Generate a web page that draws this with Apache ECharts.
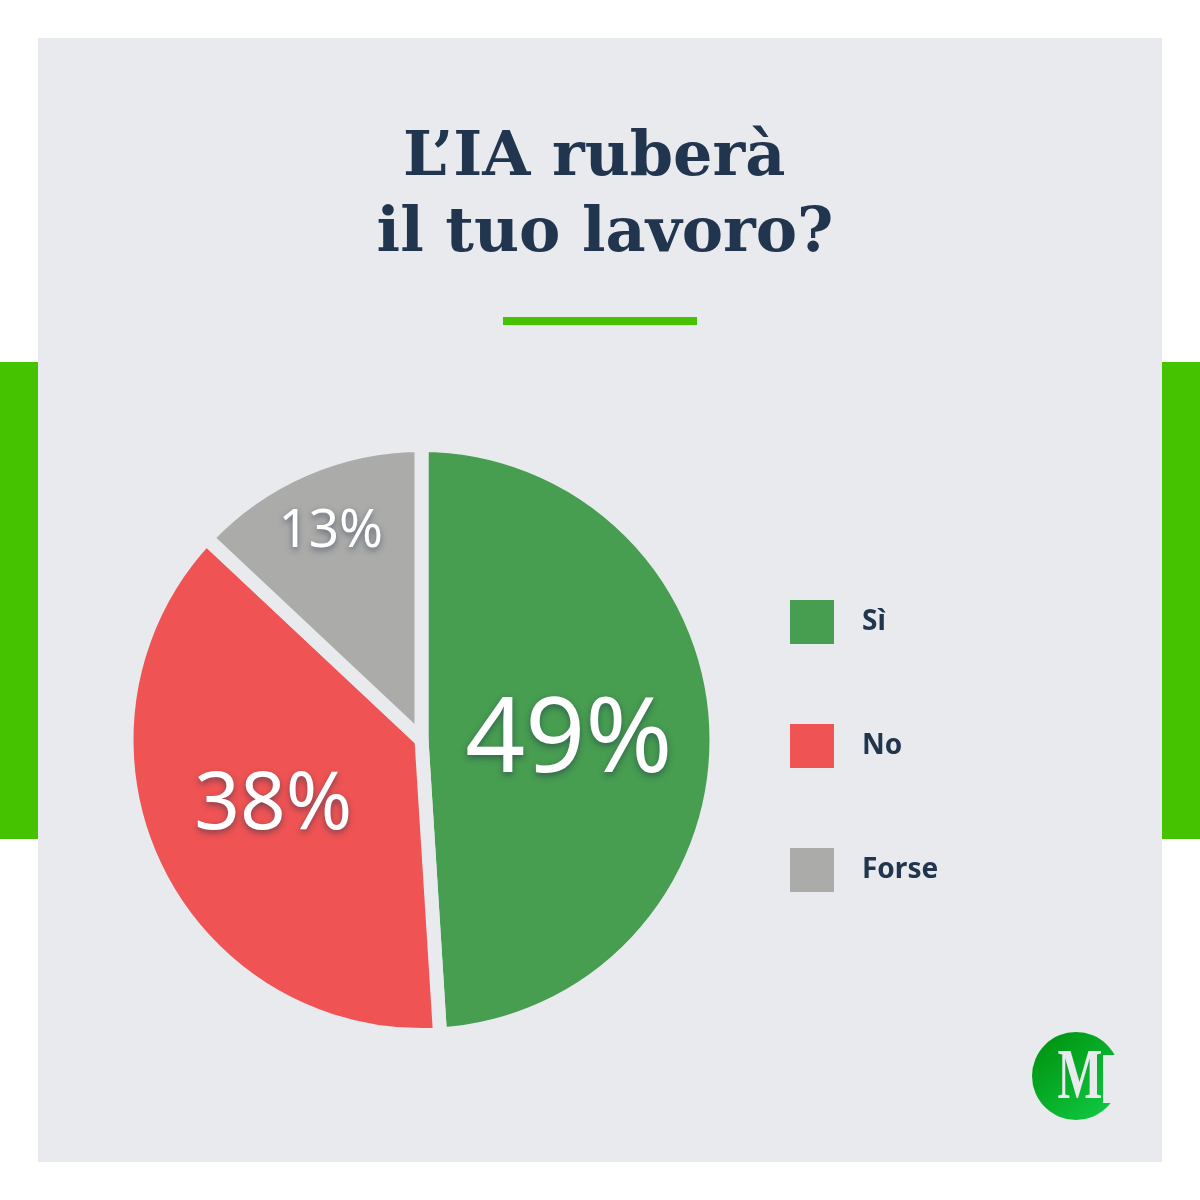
<!DOCTYPE html>
<html>
<head>
<meta charset="utf-8">
<style>
html, body { margin: 0; padding: 0; background: #fff; }
#main { width: 1200px; height: 1200px; }
</style>
<script src="https://cdn.jsdelivr.net/npm/echarts@6/dist/echarts.min.js"></script>
</head>
<body>
<div id="main"></div>
<script>
const categories = ['Sì', 'No', 'Forse']
const values = [49, 38, 13]
const colors = ['#479d50', '#f05353', '#ababa9']
const labelSizes = [105, 80, 53]
const labelOffsets = [[-3, 7], [-12, 2], [-31, -70]]

const panel = '#e8eaee'
const navy = '#22354f'
const lime = '#46c300'

let myChart = echarts.init(document.getElementById('main'), null, { renderer: 'canvas' })

let option = {
    backgroundColor: '#ffffff',
    animation: false,
    title: {
        text: 'L’IA ruberà \nil tuo lavoro?',
        left: 600,
        top: 116,
        textAlign: 'center',
        textStyle: {
            fontFamily: 'DejaVu Serif',
            fontWeight: 'bold',
            fontSize: 62,
            lineHeight: 76,
            color: navy
        }
    },
    legend: {
        orient: 'vertical',
        left: 785,
        top: 595,
        icon: 'rect',
        itemWidth: 44,
        itemHeight: 44,
        itemGap: 80,
        selectedMode: false,
        data: categories,
        itemStyle: { borderWidth: 0 },
        textStyle: {
            fontFamily: 'Noto Sans',
            fontWeight: 'bold',
            fontSize: 28,
            color: navy,
            padding: [0, 0, 0, 23]
        }
    },
    graphic: [
        { type: 'rect', z: -10, shape: { x: 38, y: 38, width: 1124, height: 1124 }, style: { fill: panel } },
        { type: 'rect', z: -10, shape: { x: 0, y: 362, width: 38, height: 477 }, style: { fill: lime } },
        { type: 'rect', z: -10, shape: { x: 1162, y: 362, width: 38, height: 477 }, style: { fill: lime } },
        { type: 'rect', z: -10, shape: { x: 503, y: 317, width: 194, height: 8 }, style: { fill: lime } },
        // logo
        {
            type: 'circle', z: 5, shape: { cx: 1076, cy: 1076, r: 44 },
            style: {
                fill: new echarts.graphic.LinearGradient(0.1, 0.1, 0.8, 0.9, [
                    { offset: 0, color: '#009410' },
                    { offset: 1, color: '#0fc53f' }
                ])
            }
        },
        { type: 'rect', z: 6, shape: { x: 1103, y: 1055, width: 20, height: 48 }, style: { fill: panel } },
        {
            type: 'text', z: 7, x: 1080, y: 1079, scaleX: 0.66,
            style: {
                text: 'M',
                fontFamily: 'Liberation Serif',
                fontWeight: 'bold',
                fontSize: 72,
                fill: panel,
                align: 'center',
                verticalAlign: 'middle'
            }
        }
    ],
    series: [
        {
            type: 'pie',
            center: [421.5, 740],
            radius: [0, 295],
            startAngle: 90,
            clockwise: true,
            silent: true,
            itemStyle: { borderColor: panel, borderWidth: 14 },
            labelLine: { show: false },
            label: {
                show: true,
                position: 'inside',
                formatter: '{c}%',
                fontFamily: 'Noto Sans',
                color: '#ffffff',
                textShadowColor: 'rgba(34,53,79,0.55)',
                textShadowBlur: 6,
                textShadowOffsetY: 3
            },
            data: categories.map((name, i) => ({
                name: name,
                value: values[i],
                itemStyle: { color: colors[i] },
                label: { fontSize: labelSizes[i], offset: labelOffsets[i] }
            }))
        }
    ]
}

myChart.setOption(option)
</script>
</body>
</html>
